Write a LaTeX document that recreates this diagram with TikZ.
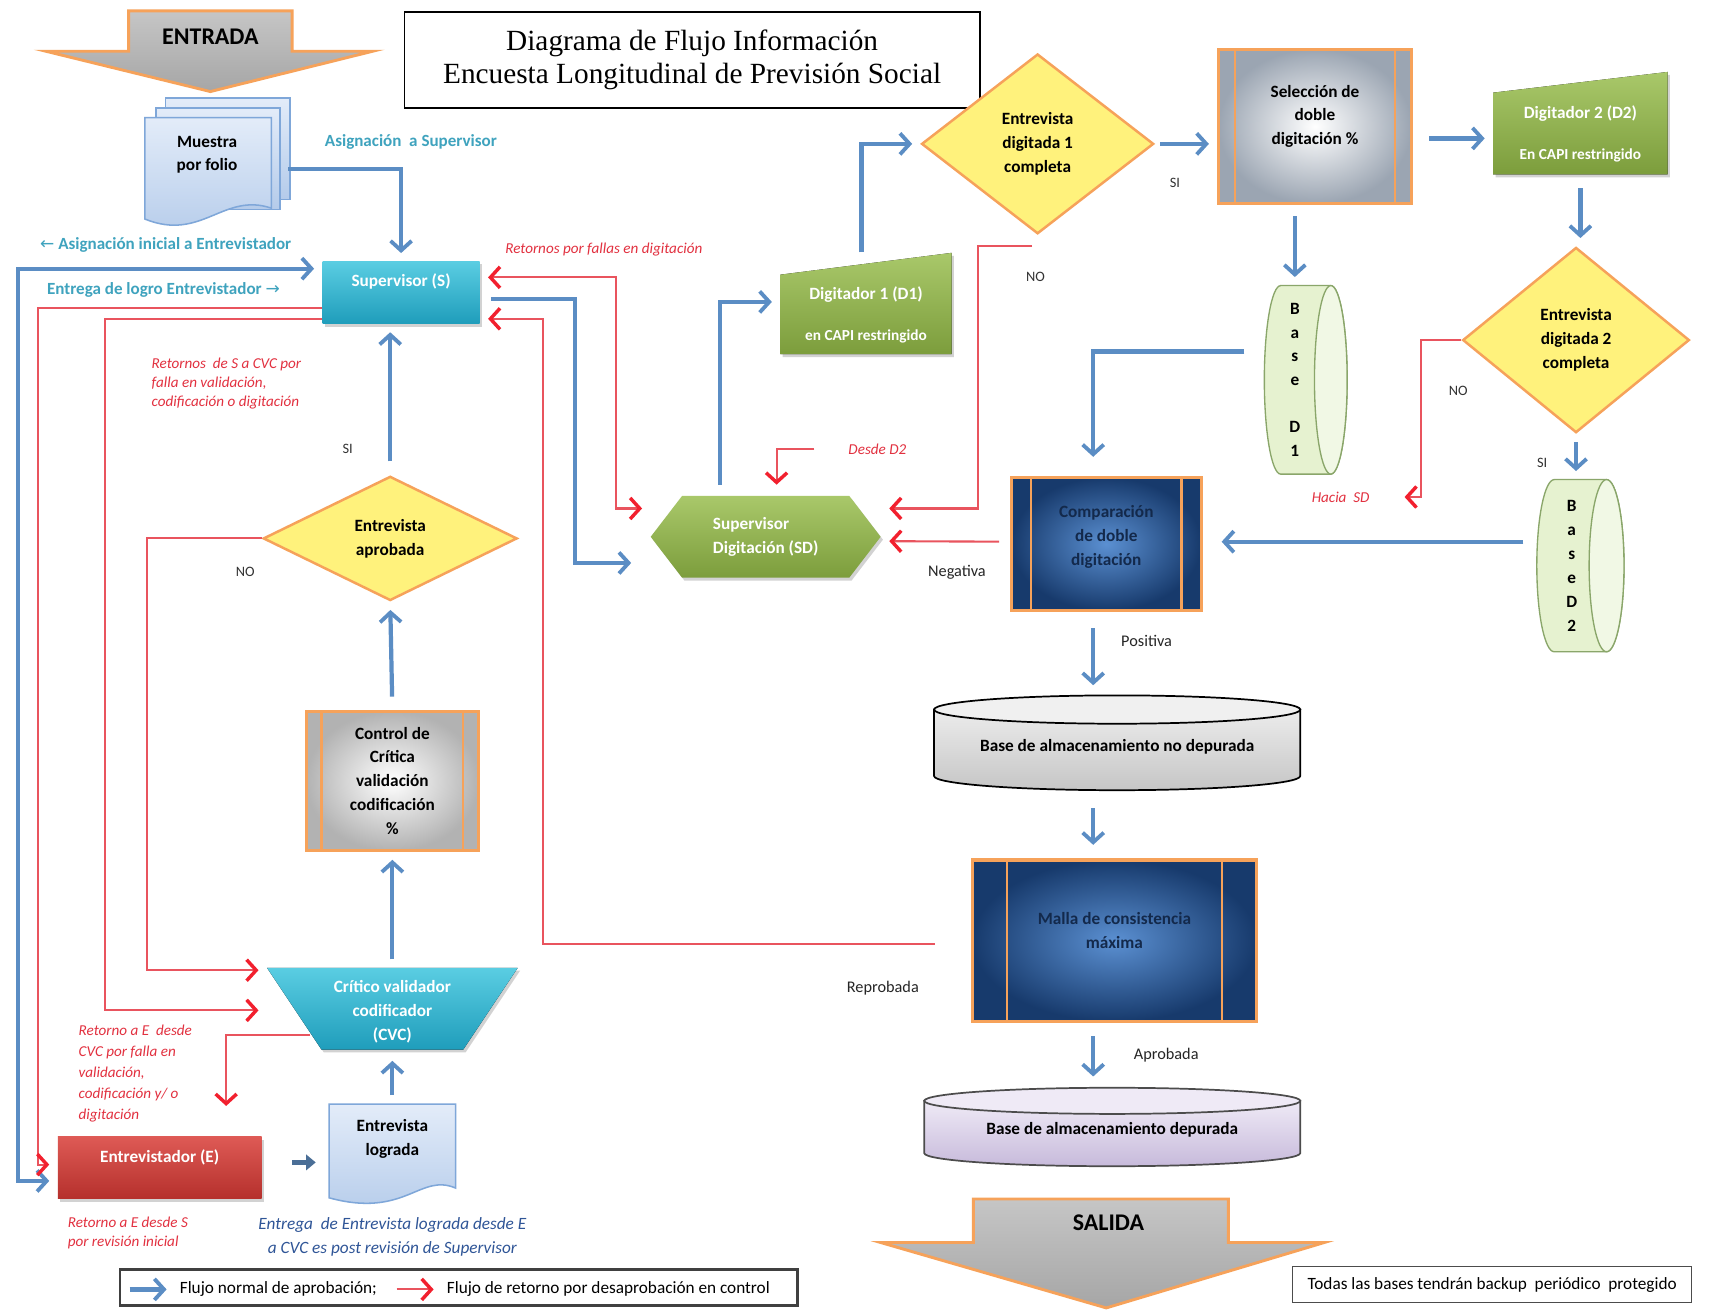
\documentclass[tikz,border=0pt]{standalone}
\usepackage{fontspec}
\setmainfont{Carlito}
\newfontfamily\titlefont{Liberation Serif}
\newfontfamily\flechafont{DejaVu Sans}
\usetikzlibrary{shapes.geometric, shapes.symbols, arrows.meta, calc, shadows}

\definecolor{flujoblue}{HTML}{5B8DC4}
\definecolor{retornored}{HTML}{E9545E}
\definecolor{headred}{HTML}{F2202E}
\definecolor{tealtext}{HTML}{3FA3BE}
\definecolor{redtext}{HTML}{E23140}
\definecolor{bluetext}{HTML}{2F5597}
\definecolor{orangeline}{HTML}{F6A25A}
\definecolor{diamondfill}{HTML}{FFF27C}
\definecolor{cyantop}{HTML}{5ACDE2}
\definecolor{cyanbot}{HTML}{1F9DBB}
\definecolor{greentop}{HTML}{A9C86A}
\definecolor{greenbot}{HTML}{7C9D3C}
\definecolor{redtop}{HTML}{DE5A55}
\definecolor{redbot}{HTML}{B5302C}
\definecolor{doctop}{HTML}{E3ECF9}
\definecolor{docbot}{HTML}{B4CBEA}
\definecolor{docline}{HTML}{7FA7D9}
\definecolor{storefill}{HTML}{E6F2D0}
\definecolor{storeline}{HTML}{8AA66A}
\definecolor{navyin}{HTML}{5B90D2}
\definecolor{navyout}{HTML}{173A6C}
\definecolor{navytext}{HTML}{13294B}
\definecolor{selgray}{HTML}{9BA5B2}
\definecolor{lavtop}{HTML}{EFEAF6}
\definecolor{lavbot}{HTML}{C7BADB}
\definecolor{shortblue}{HTML}{4A6E96}

\newcommand{\nodefont}{\fontsize{9}{12.5}\selectfont\bfseries}
\newcommand{\labfont}{\fontsize{7.9}{10}\selectfont\itshape}

\tikzstyle{flujo} = [draw=flujoblue, line width=2.2pt, -{Straight Barb[length=5pt,width=11pt,line width=2pt]}, shorten >=0.15cm]
\tikzstyle{flujodoble} = [draw=flujoblue, line width=2.2pt, {Straight Barb[length=5pt,width=11pt,line width=2pt]}-{Straight Barb[length=5pt,width=11pt,line width=2pt]}, shorten >=0.15cm, shorten <=0.15cm]
\tikzstyle{flujocorto} = [draw=shortblue, line width=3pt, -{Triangle[length=5pt,width=8pt]}]
\tikzstyle{retorno} = [draw=retornored, line width=1.1pt, -{Straight Barb[length=5pt,width=11pt,line width=1.8pt,color=headred]}, shorten >=0.15cm]
\tikzstyle{retornodoble} = [draw=retornored, line width=1.1pt, {Straight Barb[length=5pt,width=11pt,line width=1.8pt,color=headred]}-{Straight Barb[length=5pt,width=11pt,line width=1.8pt,color=headred]}, shorten >=0.15cm, shorten <=0.15cm]
\tikzstyle{sombra} = [drop shadow={opacity=0.35, shadow xshift=1.2pt, shadow yshift=-1.5pt}]
\tikzstyle{textonodo} = [font=\nodefont, align=center, inner sep=0pt]
\tikzstyle{cajacian} = [rectangle, top color=cyantop, bottom color=cyanbot, text=white, font=\nodefont, align=center, inner sep=0pt, sombra]
\tikzstyle{cajaroja} = [rectangle, top color=redtop, bottom color=redbot, text=white, font=\nodefont, align=center, inner sep=0pt, sombra]
\tikzstyle{hexverde} = [signal, signal to=west and east, signal pointer angle=105, top color=greentop, bottom color=greenbot, text=white, font=\nodefont, align=left, inner sep=0pt, sombra]
\tikzstyle{verdeshade} = [top color=greentop, bottom color=greenbot, sombra]
\tikzstyle{decision} = [diamond, fill=diamondfill, draw=orangeline, line width=1.3pt, font=\nodefont, align=center, inner sep=0pt]
\tikzstyle{almacen} = [fill=storefill, draw=storeline, line width=0.7pt]
\tikzstyle{almacentapa} = [fill=storefill!55!white, draw=storeline, line width=0.7pt]
\tikzstyle{documento} = [top color=doctop, bottom color=docbot, draw=docline, line width=0.8pt]
\tikzstyle{flecha} = [top color=gray!45, bottom color=gray!70, draw=orangeline, line width=1.5pt]
\tikzstyle{cilgris} = [top color=gray!15, bottom color=gray!45, draw=black, line width=0.9pt]
\tikzstyle{cillila} = [top color=lavtop, bottom color=lavbot, draw=black!70, line width=0.9pt]
\tikzstyle{etiquetateal} = [font=\fontsize{8.9}{10}\selectfont\bfseries, text=tealtext]
\tikzstyle{etiquetaroja} = [font=\labfont, text=redtext, align=left]
\tikzstyle{etiquetaazul} = [font=\fontsize{9}{12.5}\selectfont\itshape, text=bluetext, align=center]
\tikzstyle{etiquetasn} = [font=\fontsize{7.5}{9}\selectfont, text=black!80]
\tikzstyle{etiquetanegra} = [font=\fontsize{8.5}{10}\selectfont, text=black!85]
\tikzset{procbox/.style 2 args={rectangle, draw=orangeline, line width=1.6pt, inner color=white, outer color=#1, font=\nodefont, align=center, inner sep=0pt,
    path picture={
      \draw[orangeline, line width=1.3pt] ([xshift=#2]path picture bounding box.north west) -- ([xshift=#2]path picture bounding box.south west);
      \draw[orangeline, line width=1.3pt] ([xshift=-#2]path picture bounding box.north east) -- ([xshift=-#2]path picture bounding box.south east);}}}

\begin{document}
\begin{tikzpicture}[x=0.02cm, y=-0.02cm]
    \useasboundingbox (0,0) rectangle (1568,1204);
    \fill[white] (0,0) rectangle (1568,1204);

    % Entrada y titulo
    \path[flecha] (118,10) -- (268,10) -- (268,47) -- (342,47) -- (193,84) -- (42,47) -- (118,47) -- cycle;
    \node (entrada) [font=\fontsize{12.5}{14}\selectfont\bfseries] at (193,34) {ENTRADA};
    \node (titulo) [draw, line width=0.8pt, minimum width=10.56cm, minimum height=1.76cm, align=center, font=\titlefont\fontsize{15.3}{17.6}\selectfont] at (635,55) {Diagrama de Flujo Información\\Encuesta Longitudinal de Previsión Social};

    % Columna izquierda
    \path[documento] (152,90) rectangle (266,183);
    \path[documento] (143,99) rectangle (257,192);
    \path[documento] (133,108) -- (249,108) -- (249,191) .. controls (205,176) and (185,222) .. (133,201) -- cycle;
    \node (muestra) [textonodo, minimum width=2.32cm, minimum height=1.6cm] at (190,142) {Muestra\\por folio};
    \node (sup) [cajacian, minimum width=2.88cm, minimum height=1.14cm, text height=6pt, text depth=12pt] at (368,268.5) {Supervisor (S)};
    \node (aprob) [decision, minimum width=4.66cm, minimum height=2.28cm] at (358,494) {Entrevista\\aprobada};
    \node (ctrl) [procbox={gray!60}{0.28cm}, minimum width=3.16cm, minimum height=2.54cm] at (360,716.5) {Control de\\Crítica\\validación\\codificación\\\%};
    \fill[top color=cyantop, bottom color=cyanbot, sombra] (245,888) -- (475,888) -- (425,963) -- (295,963) -- cycle;
    \node (cvc) [textonodo, text=white, minimum width=4.6cm, minimum height=1.5cm] at (360,928) {Crítico validador\\codificador\\(CVC)};
    \node (entrev) [cajaroja, minimum width=3.74cm, minimum height=1.14cm, text height=6pt, text depth=12pt] at (146.5,1071.5) {Entrevistador (E)};
    \path[documento] (302,1013) -- (418,1013) -- (418,1090) .. controls (385,1076) and (372,1118) .. (302,1099) -- cycle;
    \node (lograda) [textonodo, minimum width=2.32cm, minimum height=1.4cm] at (360,1045) {Entrevista\\lograda};

    % Digitacion
    \node (supdig) [hexverde, minimum width=4.22cm, minimum height=1.5cm] at (702.5,492.5) {Supervisor\\Digitación (SD)};
    \fill[verdeshade] (716,252) -- (873,232) -- (873,325) -- (716,325) -- cycle;
    \node (dig1) [textonodo, text=white, minimum width=3.14cm, minimum height=1.7cm] at (794.5,289) {Digitador 1 (D1)\\[9pt]{\fontsize{8}{9}\selectfont en CAPI restringido}};
    \node (comp1) [decision, minimum width=4.26cm, minimum height=3.3cm] at (952,132) {Entrevista\\digitada 1\\completa};
    \node (selec) [procbox={selgray}{0.3cm}, minimum width=3.54cm, minimum height=2.84cm, text depth=12pt] at (1206.5,116) {Selección de\\doble\\digitación \%};
    \fill[verdeshade] (1370,85) -- (1530,66) -- (1530,160) -- (1370,160) -- cycle;
    \node (dig2) [textonodo, text=white, minimum width=3.2cm, minimum height=1.7cm] at (1450,123) {Digitador 2 (D2)\\[9pt]{\fontsize{8}{9}\selectfont En CAPI restringido}};
    \node (comp2) [decision, minimum width=4.16cm, minimum height=3.4cm] at (1446,312) {Entrevista\\digitada 2\\completa};
    \path[almacen] (1175,262) -- (1221,262) arc[start angle=90, end angle=-90, x radius=0.3cm, y radius=1.73cm] -- (1175,435) arc[start angle=270, end angle=90, x radius=0.3cm, y radius=1.73cm] -- cycle;
    \path[almacentapa] (1221,348.5) ellipse [x radius=0.3cm, y radius=1.73cm];
    \node (based1) [textonodo, minimum width=1.52cm, minimum height=3.46cm] at (1188,348.5) {B\\a\\s\\e\\[12pt]D\\1};
    \path[almacen] (1426,440) -- (1474,440) arc[start angle=90, end angle=-90, x radius=0.32cm, y radius=1.58cm] -- (1426,598) arc[start angle=270, end angle=90, x radius=0.32cm, y radius=1.58cm] -- cycle;
    \path[almacentapa] (1474,519) ellipse [x radius=0.32cm, y radius=1.58cm];
    \node (based2) [textonodo, minimum width=1.6cm, minimum height=3.16cm] at (1442,519) {B\\a\\s\\e\\D\\2};
    \node (compar) [procbox={navyout}{0.36cm}, inner color=navyin, text=navytext, minimum width=3.48cm, minimum height=2.44cm, text depth=9pt] at (1015,499) {Comparación\\de doble\\digitación};

    % Bases
    \path[cilgris] (857,651) -- (857,712) arc[start angle=180, end angle=360, x radius=3.36cm, y radius=0.26cm] -- (1193,651) -- cycle;
    \path[fill=gray!12, draw=black, line width=0.9pt] (1025,651) ellipse [x radius=3.36cm, y radius=0.26cm];
    \node (basend) [textonodo, minimum width=6.72cm, minimum height=1.74cm] at (1025,685) {Base de almacenamiento no depurada};
    \node (malla) [procbox={navyout}{0.64cm}, inner color=navyin, text=navytext, minimum width=5.22cm, minimum height=2.96cm, text depth=11pt] at (1022.5,863) {Malla de consistencia\\máxima};
    \path[cillila] (848,1010) -- (848,1058) arc[start angle=180, end angle=360, x radius=3.45cm, y radius=0.24cm] -- (1193,1010) -- cycle;
    \path[fill=lavtop, draw=black!70, line width=0.9pt] (1020.5,1010) ellipse [x radius=3.45cm, y radius=0.24cm];
    \node (based) [textonodo, minimum width=6.9cm, minimum height=1.46cm] at (1020.5,1037) {Base de almacenamiento depurada};

    % Salida, nota y leyenda
    \path[flecha] (893,1100) -- (1127,1100) -- (1127,1140) -- (1215,1140) -- (1015,1200) -- (808,1140) -- (893,1140) -- cycle;
    \node (salida) [font=\fontsize{12.5}{14}\selectfont\bfseries] at (1017,1122) {SALIDA};
    \node (nota) [draw=black!70, line width=0.8pt, minimum width=7.32cm, minimum height=0.66cm, font=\fontsize{9}{10}\selectfont] at (1369,1178.5) {Todas las bases tendrán backup~ periódico~ protegido};
    \node (leyenda) [draw=black!75, line width=1.4pt, minimum width=12.44cm, minimum height=0.66cm] at (421,1181.5) {};
    \node (leg1) [anchor=west, font=\fontsize{9}{10}\selectfont] at ($(leyenda.west)+(50,1.5)$) {Flujo normal de aprobación;};
    \node (leg2) [anchor=west, font=\fontsize{9}{10}\selectfont] at ($(leyenda.west)+(295,1.5)$) {Flujo de retorno por desaprobación en control};
    \draw[flujo, shorten >=0pt] ($(leg1.west)+(-40,0)$) -- ($(leg1.west)+(-6,0)$);
    \draw[retorno, shorten >=0pt] ($(leg2.west)+(-40,0)$) -- ($(leg2.west)+(-6,0)$);

    % Etiquetas
    \node (asigsup) [etiquetateal] at (377,130) {Asignación~ a Supervisor};
    \node (asigini) [etiquetateal] at (152,225) {{\flechafont\mdseries ←} Asignación inicial a Entrevistador};
    \node (entrega) [etiquetateal] at (150,266) {Entrega de logro Entrevistador {\flechafont\mdseries →}};
    \node (retsup) [etiquetaroja, anchor=west] at (133,352) {Retornos~ de S a CVC por\\falla en validación,\\codificación o digitación};
    \node (retdig) [etiquetaroja] at (554,229) {Retornos por fallas en digitación};
    \node (siaprob) [etiquetasn] at (319,412) {SI};
    \node (noaprob) [etiquetasn] at (225,525) {NO};
    \node (desde) [etiquetaroja] at (805,412) {Desde D2};
    \node (nocomp1) [etiquetasn] at (950,254) {NO};
    \node (sicomp1) [etiquetasn] at (1078,168) {SI};
    \node (nocomp2) [etiquetasn] at (1338,359) {NO};
    \node (sicomp2) [etiquetasn] at (1415,425) {SI};
    \node (hacia) [etiquetaroja] at (1230,456) {Hacia~ SD};
    \node (negativa) [etiquetanegra] at (878,525) {Negativa};
    \node (positiva) [etiquetanegra] at (1052,588) {Positiva};
    \node (reprobada) [etiquetanegra] at (810,907) {Reprobada};
    \node (aprobada) [etiquetanegra] at (1070,968) {Aprobada};
    \node (retcvc) [etiquetaroja, anchor=west, font=\fontsize{7.9}{11}\selectfont\itshape] at (66,985) {Retorno a E~ desde\\CVC por falla en\\validación,\\codificación y/ o\\digitación};
    \node (retini) [etiquetaroja, anchor=west] at (56,1131.5) {Retorno a E desde S\\por revisión inicial};
    \node (entregacvc) [etiquetaazul] at (360,1135) {Entrega~ de Entrevista lograda desde E\\a CVC es post revisión de Supervisor};

    % Conectores columna izquierda
    \draw[flujo] ($(muestra.east)+(16,13)$) -| (sup.north);
    \draw[flujodoble] ($(entrev.west)+(0,12)$) -- ++(-36,0) |- ($(sup.west)+(0,-22)$);
    \draw[retorno] ($(sup.west)+(0,14)$) -| ($(entrev.west)+(-18,-3)$) -- ($(entrev.west)+(0,-3)$);
    \draw[retorno] ($(sup.west)+(0,24)$) -| ($(cvc.west)+(-148,-1)$) -- ($(cvc.west)+(0,-1)$);
    \draw[retorno] (aprob.west) -| ($(cvc.north west)+(-110,0)$) -- (cvc.north west);
    \draw[retorno, shorten >=0pt] ($(cvc.west)+(40,22)$) -| ($(entrev.north)+(61,-28)$);
    \draw[flujocorto] ($(entrev.east)+(28,-5)$) -- ($(lograda.west)+(-12,21.5)$);
    \draw[flujo, shorten <=0.1cm] (lograda.north) -- (lograda.north |- cvc.south);
    \draw[flujo, shorten <=0.2cm] (cvc.north) -- (ctrl.south);
    \draw[flujo, shorten <=0.25cm] (ctrl.north) -- (aprob.south);
    \draw[flujo, shorten <=0.25cm] (aprob.north) -- (aprob.north |- sup.south);

    % Conectores centro
    \draw[retornodoble] ($(sup.east)+(0,-14)$) -- ++(125,0) |- ($(supdig.west)+(0,-26)$);
    \draw[flujo, shorten <=0.2cm] ($(sup.east)+(0,6)$) -- ++(87,0) |- ($(supdig.west)+(-10,24)$);
    \draw[retorno, shorten <=0pt] ($(malla.west)+(-33,3)$) -| ($(sup.east)+(58,24)$) -- ($(sup.east)+(0,24)$);
    \draw[flujo, shorten <=0.2cm] ($(supdig.north)+(-42,0)$) |- ($(dig1.west)+(0,-12)$);
    \draw[retorno, shorten >=0.2cm] ($(desde.west)+(-25,0)$) -| ($(supdig.north)+(10,0)$);
    \draw[flujo, shorten <=0.15cm] ($(dig1.north)+(-4,-7)$) |- (comp1.west);
    \draw[flujo, shorten <=0.1cm] (comp1.east) -- (comp1.east -| selec.west);
    \draw[retorno] ($(comp1.south)+(-5,10)$) -| ($(supdig.east)+(89,-26)$) -- ($(supdig.east)+(0,-26)$);

    % Conectores derecha
    \coordinate (s2) at ($(selec.east)+(0,11)$);
    \draw[flujo, shorten <=0.3cm] (s2) -- (s2 -| dig2.west);
    \draw[flujo, shorten <=0.2cm] (based1.north |- selec.south) -- (based1.north);
    \draw[flujo, shorten <=0.2cm] ($(dig2.south)+(0,-3)$) -- (dig2.south |- comp2.north);
    \draw[retorno, shorten >=0pt] (comp2.west) -| ($(hacia.east)+(41,0)$) -- ($(hacia.east)+(26,0)$);
    \draw[flujo, shorten <=0.15cm] (comp2.south) -- (comp2.south |- based2.north);
    \draw[flujo, shorten >=0.35cm] ($(based1.west)+(-8,-26)$) -| ($(compar.north)+(-12,0)$);
    \draw[flujo, shorten >=0.35cm] ($(based2.west)+(-4,-22)$) -- ($(compar.east)+(0,-2)$);
    \draw[retorno, shorten <=0.2cm] ($(compar.west)+(0,-2)$) -- ($(supdig.east)+(0,4)$);
    \draw[flujo, shorten <=0.3cm, shorten >=0.25cm] ($(compar.south)+(-12,0)$) -- ($(basend.north)+(-22,0)$);
    \draw[flujo, shorten <=0.25cm, shorten >=0.25cm] ($(basend.south)+(-22,0)$) -- ($(malla.north)+(-19.5,0)$);
    \draw[flujo, shorten <=0.25cm, shorten >=0.25cm] ($(malla.south)+(-19.5,0)$) -- ($(based.north)+(-17.5,0)$);
\end{tikzpicture}
\end{document}
